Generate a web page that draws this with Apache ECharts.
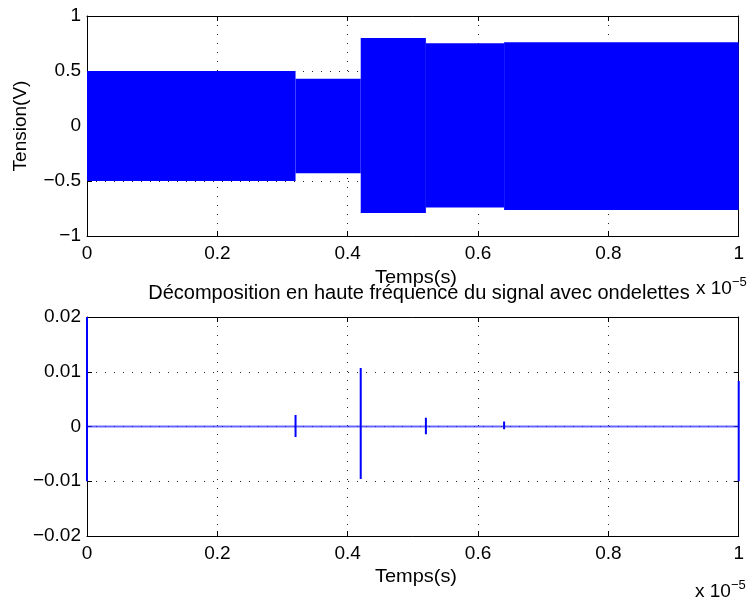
<!DOCTYPE html>
<html>
<head>
<meta charset="utf-8">
<script src="https://cdn.jsdelivr.net/npm/echarts@6/dist/echarts.min.js"></script>
<style>html,body{margin:0;padding:0;background:#fff;overflow:hidden;}#c{width:747px;height:597px;}</style>
</head>
<body>
<div id="c"></div>
<script>
// ---- data (time in units of 1e-5 s) ----
const xTicks = [0, 0.2, 0.4, 0.6, 0.8, 1];
const yTicksTop = [-1, -0.5, 0, 0.5, 1];
const yTicksBottom = [-0.02, -0.01, 0, 0.01, 0.02];
// envelope of the dense tension signal, per segment
const segStart = [0, 0.32, 0.42, 0.52, 0.64];
const segEnd   = [0.32, 0.42, 0.52, 0.64, 1];
const segUpper = [0.5, 0.43, 0.80, 0.752, 0.761];
const segLower = [-0.5, -0.43, -0.79, -0.74, -0.764];
// wavelet detail spikes
const spikeTimes = [0, 0.32, 0.42, 0.52, 0.64, 1];
const spikeMax   = [0.02, 0.0021, 0.0107, 0.0016, 0.0009, 0.0083];
const spikeMin   = [-0.01, -0.0019, -0.0096, -0.0014, -0.0005, -0.0100];
const baseline   = [[0, 0], [1, 0]];

const FONT = 'Liberation Sans, Arial, sans-serif';
const FS = 19;

const segData = segStart.map((s, i) => [s, segEnd[i], segUpper[i], segLower[i]]);
const spikeData = [];
spikeTimes.forEach((t, i) => {
  spikeData.push([t, spikeMax[i]]);
  spikeData.push([t, spikeMin[i]]);
  spikeData.push([t, '-']);
});

const grids = [
  {left: 87, top: 16, right: 3, height: 220},
  {left: 87, top: 317, right: 3, height: 219}
];

function xAxisPair(gi) {
  return [{
    type: 'value', gridIndex: gi, min: 0, max: 1, interval: 0.2,
    axisLine: {show: true, onZero: false, lineStyle: {color: '#000', width: 1}},
    axisTick: {show: true, inside: true, length: 5, lineStyle: {color: '#000'}},
    axisLabel: {color: '#000', fontFamily: FONT, fontSize: FS, margin: 8,
      formatter: v => String(+v.toFixed(2))},
    splitLine: {show: true, lineStyle: {color: '#222', type: [1, 8], width: 1}}
  }, {
    type: 'value', gridIndex: gi, position: 'top', min: 0, max: 1, interval: 0.2,
    axisLine: {show: true, onZero: false, lineStyle: {color: '#000', width: 1}},
    axisTick: {show: true, inside: true, length: 5, lineStyle: {color: '#000'}},
    axisLabel: {show: false}, splitLine: {show: false}
  }];
}
function yAxisPair(gi, min, max, interval) {
  return [{
    type: 'value', gridIndex: gi, min: min, max: max, interval: interval,
    axisLine: {show: true, onZero: false, lineStyle: {color: '#000', width: 1}},
    axisTick: {show: true, inside: true, length: 5, lineStyle: {color: '#000'}},
    axisLabel: {color: '#000', fontFamily: FONT, fontSize: FS, margin: 6,
      formatter: v => { const s = String(+v.toFixed(3)); return s.replace('-', '\u2212'); }},
    splitLine: {show: true, lineStyle: {color: '#222', type: [1, 8], width: 1}}
  }, {
    type: 'value', gridIndex: gi, position: 'right', min: min, max: max, interval: interval,
    axisLine: {show: true, onZero: false, lineStyle: {color: '#000', width: 1}},
    axisTick: {show: true, inside: true, length: 5, lineStyle: {color: '#000'}},
    axisLabel: {show: false}, splitLine: {show: false}
  }];
}

const chart = echarts.init(document.getElementById('c'), null, {renderer: 'canvas'});
function x10(x, y) {
  return {
    type: 'text', x: x, y: y,
    style: {
      text: '{b|x 10}{s|\u22125}',
      rich: {
        b: {fontFamily: FONT, fontSize: FS, fill: '#000'},
        s: {fontFamily: FONT, fontSize: 13, fill: '#000', verticalAlign: 'bottom', padding: [0, 0, 12, 0]}
      }
    }
  };
}
function label(text, x, y, size, sx, rot) {
  return {type: 'text', x: x, y: y, scaleX: sx, rotation: rot || 0,
    style: {text: text, font: size + 'px ' + FONT, fill: '#000', textAlign: 'center', textVerticalAlign: 'middle'}};
}
chart.setOption({
  animation: false,
  backgroundColor: '#fff',
  grid: grids,
  xAxis: [...xAxisPair(0), ...xAxisPair(1)],
  yAxis: [...yAxisPair(0, -1, 1, 0.5), ...yAxisPair(1, -0.02, 0.02, 0.01)],
  graphic: [
    label('Temps(s)', 416, 278, FS, 1.05),
    label('Décomposition en haute fréquence du signal avec ondelettes', 419, 293, 20, 1.0),
    label('Temps(s)', 416, 577, FS, 1.05),
    Object.assign(label('Tension(V)', 21, 126, FS, 1), {rotation: Math.PI / 2}),
    x10(696, 276),
    x10(695, 579)
  ],
  series: [
    {
      type: 'custom', xAxisIndex: 0, yAxisIndex: 0, data: segData,
      renderItem: function (params, api) {
        const p1 = api.coord([api.value(0), api.value(2)]);
        const p2 = api.coord([api.value(1), api.value(3)]);
        return {type: 'rect', shape: {x: p1[0], y: p1[1], width: p2[0] - p1[0], height: p2[1] - p1[1]},
          style: {fill: '#0000ff'}};
      },
      encode: {x: [0, 1], y: [2, 3]}
    },
    {
      type: 'line', xAxisIndex: 2, yAxisIndex: 2, data: baseline, symbol: 'none',
      lineStyle: {color: 'rgba(40,40,255,0.7)', width: 2}
    },
    {
      type: 'line', xAxisIndex: 2, yAxisIndex: 2, data: spikeData, symbol: 'none', connectNulls: false,
      lineStyle: {color: '#0000ff', width: 2}
    }
  ]
});
</script>
</body>
</html>
